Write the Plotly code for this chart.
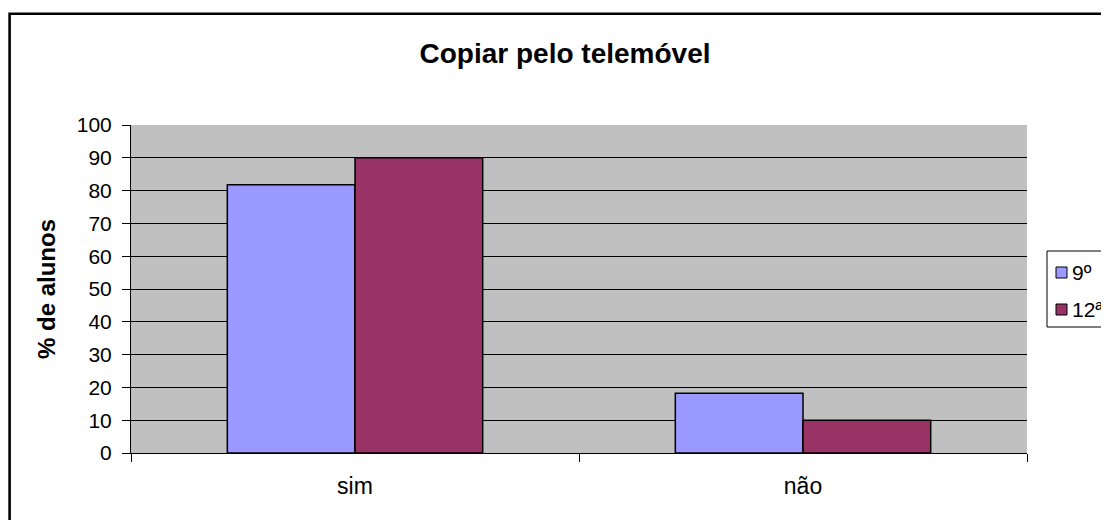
import plotly.graph_objects as go

categorias = ["sim", "não"]
valores_9 = [81.8, 18.2]
valores_12 = [90.0, 10.0]
nomes = ["9º", "12ª"]
cores = ["#9999FF", "#993366"]

fonte = "Liberation Sans, Arial, sans-serif"

fig = go.Figure()
for nome, vals, cor in zip(nomes, [valores_9, valores_12], cores):
    fig.add_trace(go.Bar(x=categorias, y=vals, name=nome, showlegend=False,
                         marker=dict(color=cor, line=dict(color="black", width=1.5))))

# o body da página tem 8px de margem, por isso desconta-se aqui
L, R, T, B = 123, 82, 117, 67
W, H = 1101, 512
pw, ph = W - L - R, H - T - B


def px_x(x):
    # pixel da janela -> coordenada paper
    return (x - 8 - L) / pw


def px_y(y):
    return (8 + H - B - y) / ph


fig.update_layout(
    width=W, height=H,
    margin=dict(l=L, r=R, t=T, b=B, autoexpand=False),
    paper_bgcolor="white", plot_bgcolor="#C0C0C0",
    barmode="group", bargap=0.43, bargroupgap=0,
    font=dict(family=fonte, color="black", size=21),
    title=dict(text="<b>Copiar pelo telemóvel</b>", x=(565 - 8) / W, xanchor="center",
               y=1 - (53 - 8) / H, yanchor="middle", font=dict(size=28)),
)
fig.update_yaxes(range=[0, 100], dtick=10, showgrid=True, gridcolor="black", gridwidth=1,
                 ticks="outside", ticklen=8, tickcolor="black", showline=True,
                 linecolor="black", linewidth=1, zeroline=False, ticklabelstandoff=6,
                 title=dict(text="<b>% de alunos</b>", font=dict(size=24), standoff=14),
                 tickfont=dict(size=21))
fig.update_xaxes(showline=True, linecolor="black", linewidth=1, ticks="outside",
                 tickson="boundaries", ticklen=8, tickcolor="black", showgrid=False,
                 ticklabelstandoff=12, tickfont=dict(size=23))

# moldura externa
fig.add_shape(type="rect", xref="paper", yref="paper",
              x0=px_x(9.6), x1=px_x(1115), y0=px_y(530), y1=px_y(13.7),
              line=dict(color="black", width=2.6), layer="below")

# legenda à maneira do Excel (caixa cortada à direita)
fig.add_shape(type="rect", xref="paper", yref="paper",
              x0=px_x(1047), x1=px_x(1115), y0=px_y(327), y1=px_y(251),
              line=dict(color="black", width=1), fillcolor="white")
for nome, cor, yc in zip(nomes, cores, [272.5, 309.5]):
    fig.add_shape(type="rect", xref="paper", yref="paper",
                  x0=px_x(1056), x1=px_x(1067), y0=px_y(yc + 5.5), y1=px_y(yc - 5.5),
                  line=dict(color="black", width=1), fillcolor=cor)
    fig.add_annotation(text=nome, xref="paper", yref="paper", x=px_x(1070), y=px_y(yc),
                       xanchor="left", yanchor="middle", showarrow=False,
                       font=dict(size=21))

fig.write_html("out.html")
